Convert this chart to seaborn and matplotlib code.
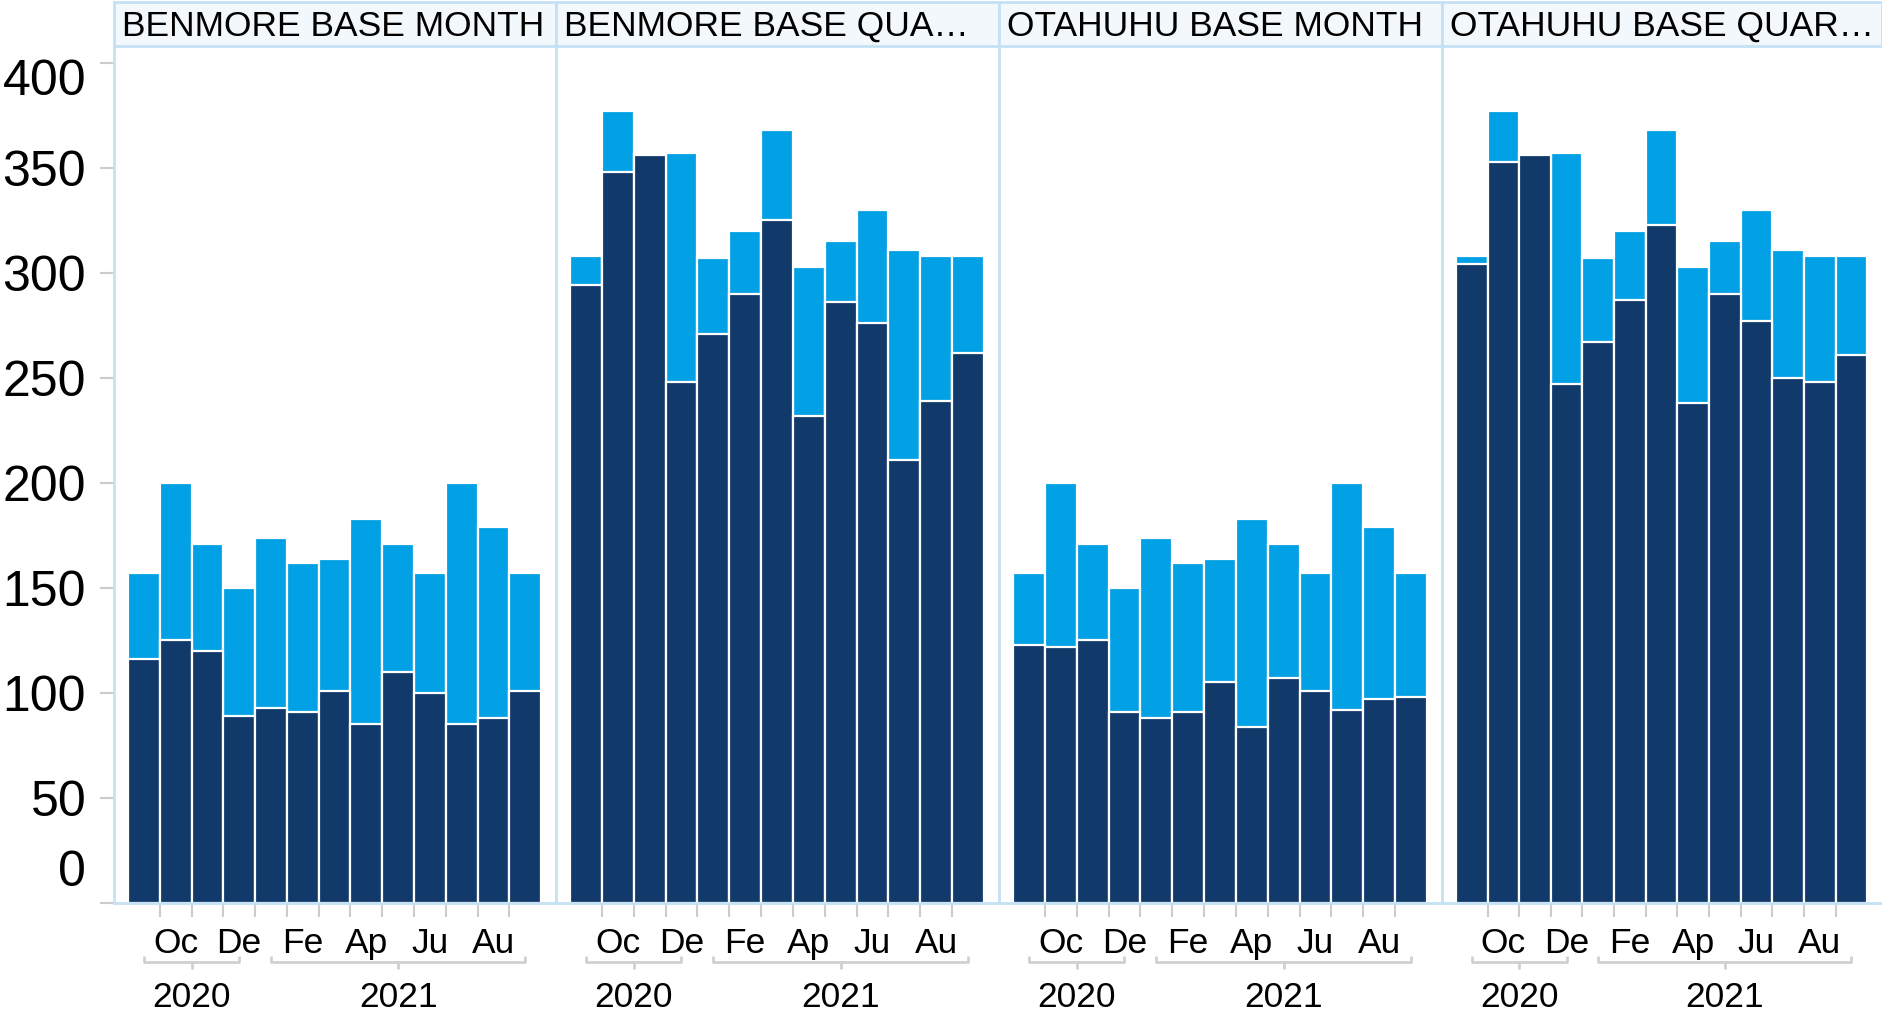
import matplotlib
matplotlib.use("Agg")
import matplotlib.pyplot as plt
import seaborn as sns
import pandas as pd
from matplotlib.transforms import blended_transform_factory, ScaledTranslation
from matplotlib.patches import Rectangle

# ---------------- data ----------------
facet_titles = ["BENMORE BASE MONTH", "BENMORE BASE QUA\u2026",
                "OTAHUHU BASE MONTH", "OTAHUHU BASE QUAR\u2026"]
months = ["2020-09", "2020-10", "2020-11", "2020-12", "2021-01", "2021-02", "2021-03",
          "2021-04", "2021-05", "2021-06", "2021-07", "2021-08", "2021-09"]
month_labels = ["", "Oc", "", "De", "", "Fe", "", "Ap", "", "Ju", "", "Au", ""]
month_year = ["2020"] * 4 + ["2021"] * 9
years = ["2020", "2021"]
y_ticks = [0, 50, 100, 150, 200, 250, 300, 350, 400]

# top (light) of each stacked bar = total
total_month = [157, 200, 171, 150, 174, 162, 164, 183, 171, 157, 200, 179, 157]
total_quarter = [308, 377, 357, 357, 307, 320, 368, 303, 315, 330, 311, 308, 308]

# lower (dark) segment
benmore_month = [116, 125, 120, 89, 93, 91, 101, 85, 110, 100, 85, 88, 101]
benmore_quarter = [294, 348, 356, 248, 271, 290, 325, 232, 286, 276, 211, 239, 262]
otahuhu_month = [123, 122, 125, 91, 88, 91, 105, 84, 107, 101, 92, 97, 98]
otahuhu_quarter = [304, 353, 356, 247, 267, 287, 323, 238, 290, 277, 250, 248, 261]

totals = [total_month, total_quarter, total_month, total_quarter]
lowers = [benmore_month, benmore_quarter, otahuhu_month, otahuhu_quarter]

# ---------------- style ----------------
DARK = "#11396a"
LIGHT = "#02a0e4"
FRAME = "#c5e1f4"
HEAD_BG = "#f3f8fd"
TICK = "#cccccc"
FS = 25.5

sns.set_style("white")
plt.rcParams["font.family"] = ["Liberation Sans", "DejaVu Sans"]

W, H = 1882, 1011
fig = plt.figure(figsize=(W / 100, H / 100), dpi=100)

left_px = [114, 556, 999, 1442]
right_px = [556, 999, 1442, 1882]
top_px, bottom_px = 46, 903

for i in range(4):
    x0 = left_px[i] / W
    w = (right_px[i] - left_px[i]) / W
    ax = fig.add_axes([x0, 1 - bottom_px / H, w, (bottom_px - top_px) / H])
    df = pd.DataFrame({"month": months, "total": totals[i], "lower": lowers[i]})
    sns.barplot(data=df, x="month", y="total", order=months, color=LIGHT,
                saturation=1, width=1.0, edgecolor="white", linewidth=1.6,
                errorbar=None, ax=ax)
    sns.barplot(data=df, x="month", y="lower", order=months, color=DARK,
                saturation=1, width=1.0, edgecolor="white", linewidth=1.6,
                errorbar=None, ax=ax)
    ax.set_xlim(-0.5 - 0.44, 12.5 + 0.47)
    ax.set_ylim(0, 408)
    ax.set_xlabel("")
    ax.set_ylabel("")
    for s in ["top", "right"]:
        ax.spines[s].set_visible(False)
    for s in ["left", "bottom"]:
        ax.spines[s].set_color(FRAME)
        ax.spines[s].set_linewidth(2)

    # x ticks at band boundaries
    ax.set_xticks([k + 0.5 for k in range(len(months) - 1)])
    ax.set_xticklabels([])
    ax.tick_params(axis="x", length=10, width=1.5, color=TICK, bottom=True)

    # month labels
    tr = blended_transform_factory(ax.transData, fig.transFigure)
    for k, lab in enumerate(month_labels):
        if lab:
            ax.text(k, 1 - 940 / H, lab, transform=tr, ha="center",
                    va="center_baseline", fontsize=FS, color="black")
    # year brackets
    for yr in years:
        idx = [k for k, m in enumerate(month_year) if m == yr]
        a, b = idx[0], idx[-1]
        mid = (a + b) / 2
        yl = 1 - 962 / H
        yu = 1 - 956 / H
        yd = 1 - 968 / H
        ax.plot([a, a, b, b], [yu, yl, yl, yu], transform=tr, color="#d0d0d0",
                lw=2, clip_on=False, solid_capstyle="butt")
        ax.plot([mid, mid], [yl, yd], transform=tr, color="#d0d0d0", lw=2,
                clip_on=False)
        ax.text(mid, 1 - 994 / H, yr, transform=tr, ha="center",
                va="center_baseline", fontsize=FS, color="black")

    if i == 0:
        ax.set_yticks(y_ticks)
        ax.set_yticklabels([str(v) for v in y_ticks])
        ax.tick_params(axis="y", length=10, width=1.5, color=TICK,
                       labelsize=36, pad=10, left=True, labelcolor="black")
        labels = ax.get_yticklabels()
        labels[0].set_va("bottom")
        labels[0].set_transform(labels[0].get_transform() +
                                ScaledTranslation(0, 5 / 72, fig.dpi_scale_trans))
        labels[-1].set_va("top")
        labels[-1].set_transform(labels[-1].get_transform() +
                                 ScaledTranslation(0, 3 / 72, fig.dpi_scale_trans))
    else:
        ax.set_yticks(y_ticks)
        ax.tick_params(axis="y", left=False, labelleft=False)

    # header strip
    fig.patches.append(Rectangle((left_px[i] / W, 1 - 46 / H),
                                 (right_px[i] - left_px[i]) / W, 44 / H,
                                 transform=fig.transFigure, facecolor=HEAD_BG,
                                 edgecolor=FRAME, linewidth=2, zorder=0))
    fig.text((left_px[i] + 8) / W, 1 - 23 / H, facet_titles[i], ha="left",
             va="center_baseline", fontsize=FS, color="black")

fig.savefig("out.png", dpi=100)
